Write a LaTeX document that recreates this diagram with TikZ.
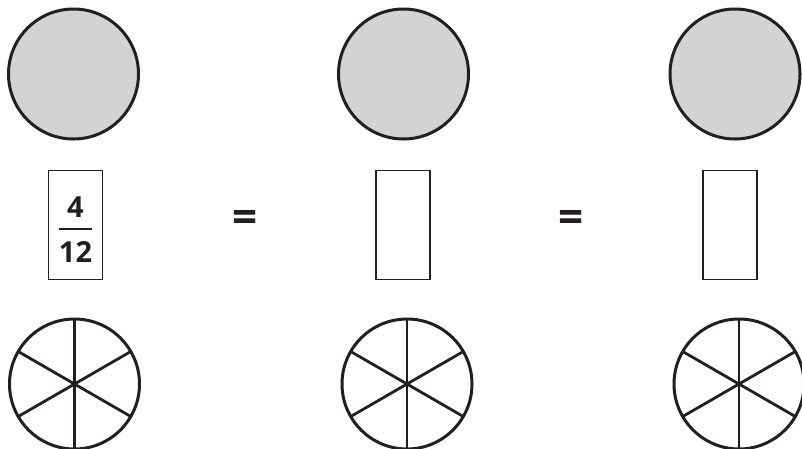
\documentclass[tikz,border=0pt]{standalone}
\usepackage{fontspec}
\setmainfont{Open Sans}
\definecolor{ink}{RGB}{35,31,32}
\definecolor{wholegray}{RGB}{209,211,212}

\begin{document}
\begin{tikzpicture}[x=1pt,y=-1pt,
  whole/.style={circle,draw=ink,line width=3pt,fill=wholegray,
    minimum size=130pt,inner sep=0pt,outer sep=0pt},
  pie/.style={circle,draw=ink,line width=3pt,
    minimum size=130pt,inner sep=0pt,outer sep=0pt},
  spoke/.style={draw=ink,line width=2.8pt},
  answerbox/.style={rectangle,draw=ink,line width=1.5pt,
    minimum width=54pt,minimum height=109pt,inner sep=0pt},
  eqsign/.style={text=ink,inner sep=0pt,font=\fontsize{44}{44}\selectfont\bfseries},
  digit/.style={text=ink,inner sep=0pt,font=\fontsize{29}{32}\selectfont\bfseries}]
  \useasboundingbox (0,0) rectangle (802,448);
  % whole circles (top row)
  \node[whole] (w1) at (73.5,74) {};
  \node[whole] (w2) at (403.5,74) {};
  \node[whole] (w3) at (735,74) {};
  % fraction boxes
  \node[answerbox] (b1) at (75.5,225) {};
  \node[answerbox] (b2) at (403,225) {};
  \node[answerbox] (b3) at (730,225) {};
  \node[eqsign] (eq1) at (245,221) {=};
  \node[eqsign] (eq2) at (571,221) {=};
  % 4/12 in the first box
  \node[digit] (num) at (75.5,207) {4};
  \node[digit] (den) at (75.5,252) {12};
  \coordinate (bar) at (75.5,229);
  \draw[ink,line width=1.8pt] ([xshift=-16.5pt]bar) -- ([xshift=16.5pt]bar);
  % circles cut in sixths (bottom row)
  \node[pie] (p1) at (74.5,384) {};
  \node[pie] (p2) at (407,384) {};
  \node[pie] (p3) at (739,384) {};
  \foreach \p in {p1,p2,p3}
    \foreach \a/\b in {90/270,30/210,150/330}
      \draw[spoke] (\p.\a) -- (\p.\b);
\end{tikzpicture}
\end{document}
